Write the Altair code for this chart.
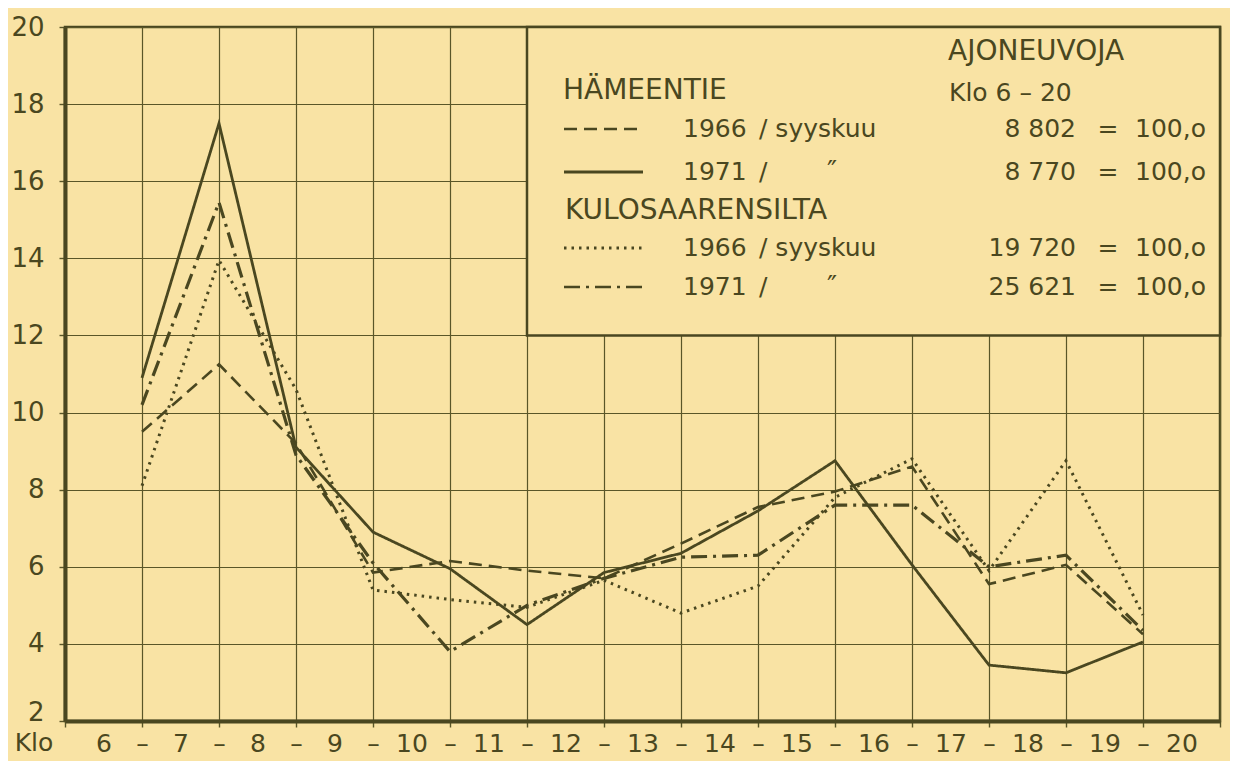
import altair as alt
import pandas as pd

# ---------------- data ----------------
positions = list(range(1, 15))      # intervals 6–7 ... 19–20, plotted at the dash between the hours
hour_labels = list(range(6, 21))
y_ticks = list(range(2, 21, 2))

series_order = ["Hämeentie 1966", "Hämeentie 1971",
                "Kulosaarensilta 1966", "Kulosaarensilta 1971"]

hameentie_1966 = [9.5, 11.25, 9.2, 5.85, 6.15, 5.9, 5.7, 6.6, 7.55, 7.95, 8.6, 5.55, 6.05, 4.25]
hameentie_1971 = [10.9, 17.5, 9.1, 6.9, 5.95, 4.5, 5.85, 6.35, 7.45, 8.75, 6.05, 3.45, 3.25, 4.05]
kulosaari_1966 = [8.1, 13.95, 10.6, 5.4, 5.15, 4.95, 5.65, 4.8, 5.5, 7.8, 8.8, 5.9, 8.75, 4.75]
kulosaari_1971 = [10.2, 15.45, 8.9, 6.1, 3.8, 5.0, 5.7, 6.25, 6.3, 7.6, 7.6, 6.0, 6.3, 4.35]

totals = ["8 802", "8 770", "19 720", "25 621"]

rows = []
for name, vals in zip(series_order, [hameentie_1966, hameentie_1971, kulosaari_1966, kulosaari_1971]):
    for p, v in zip(positions, vals):
        rows.append({"series": name, "pos": p, "value": v})
df = pd.DataFrame(rows)

# ---------------- style ----------------
BG = "#f9e3a4"
INK = "#4a4720"
GRID = "#5a5628"
FONT = "DejaVu Sans"
W, H = 1155, 694
dash_styles = [[13, 7], [1, 0], [2.5, 5], [16, 6, 3, 6]]
widths = [2.6, 3.2, 2.8, 2.6]

dash_scale = alt.Scale(domain=series_order, range=dash_styles)
width_scale = alt.Scale(domain=series_order, range=widths)

x_vals = [i / 2 for i in range(0, 31)]
x_axis = alt.Axis(
    values=x_vals,
    labelExpr="datum.value % 1 != 0 ? toString(datum.value + 5.5) : "
              "((datum.value > 0 && datum.value < 15) ? '–' : '')",
    grid=True, gridColor=GRID, gridWidth=1.2,
    gridOpacity={"condition": {"test": "datum.value % 1 != 0", "value": 0}, "value": 1},
    ticks=True, tickSize=6, tickColor=GRID, tickWidth=1.4,
    tickOpacity={"condition": {"test": "datum.value % 1 != 0", "value": 0}, "value": 1},
    domainColor=INK, domainWidth=4,
    labelFont=FONT, labelFontSize=25, labelColor=INK, labelPadding=4,
    labelFlush=False, labelOverlap=False, labelAngle=0, title=None,
)
y_axis = alt.Axis(
    values=y_ticks, grid=True, gridColor=GRID, gridWidth=1.2,
    tickSize=6, tickColor=GRID, tickWidth=1.4,
    domainColor=INK, domainWidth=4,
    labelFont=FONT, labelFontSize=26, labelColor=INK, labelPadding=15,
    labelOffset={"condition": {"test": "datum.value == 2", "value": -9}, "value": 0},
    labelBaseline="middle", labelFlush=False, labelOverlap=False, title=None,
)

lines = alt.Chart(df).mark_line(color=INK, strokeJoin="miter").encode(
    x=alt.X("pos:Q", scale=alt.Scale(domain=[0, 15], nice=False, zero=False), axis=x_axis),
    y=alt.Y("value:Q", scale=alt.Scale(domain=[2, 20], nice=False, zero=False), axis=y_axis),
    strokeDash=alt.StrokeDash("series:N", scale=dash_scale, legend=None),
    strokeWidth=alt.StrokeWidth("series:N", scale=width_scale, legend=None),
    detail="series:N",
)

one = pd.DataFrame({"k": [0]})

# legend box (x 6..15, y 12..20)
box = alt.Chart(one).mark_rect(fill=BG, stroke=INK, strokeWidth=2.5).encode(
    x=alt.value(6 * W / 15), x2=alt.value(W),
    y=alt.value(0), y2=alt.value((20 - 12) * H / 18),
)

row_y = [102, 145, 221, 260]
samples = []
for dsh, wd, yy in zip(dash_styles, widths, row_y):
    samples.append(
        alt.Chart(one).mark_rule(color=INK, strokeWidth=wd, strokeDash=dsh).encode(
            x=alt.value(499), x2=alt.value(578), y=alt.value(yy)
        )
    )


def txt(s, x, y, size=25, align="left"):
    return alt.Chart(one).mark_text(
        text=s, align=align, baseline="middle", font=FONT, fontSize=size, color=INK
    ).encode(x=alt.value(x), y=alt.value(y))


texts = [
    txt("Klo", -31, H + 22, 25, "center"),
    txt("AJONEUVOJA", 883, 25, 28),
    txt("HÄMEENTIE", 498, 64, 28),
    txt("Klo 6 – 20", 884, 66, 25),
    txt("KULOSAARENSILTA", 500, 184, 28),
]
years = ["1966", "1971", "1966", "1971"]
for i, (yr, tot, yy) in enumerate(zip(years, totals, row_y)):
    texts.append(txt(yr, 618, yy, 25))
    if yr == "1966":
        texts.append(txt("/ syyskuu", 694, yy, 25))
    else:
        texts.append(txt("/", 694, yy, 25))
        texts.append(txt("″", 762, yy, 27))
    texts.append(txt(tot, 1011, yy, 25, "right"))
    texts.append(txt("=", 1043, yy, 25, "center"))
    texts.append(txt("100,o", 1070, yy, 25))

chart = alt.layer(lines, box, *samples, *texts).properties(
    width=W, height=H,
    autosize=alt.AutoSizeParams(type="none"),
    padding={"left": 57, "top": 19, "right": 10, "bottom": 40},
).configure(background=BG).configure_view(stroke=INK, strokeWidth=2.5, fill=BG)

chart.save("out.html", embed_options={"renderer": "svg", "actions": False})
